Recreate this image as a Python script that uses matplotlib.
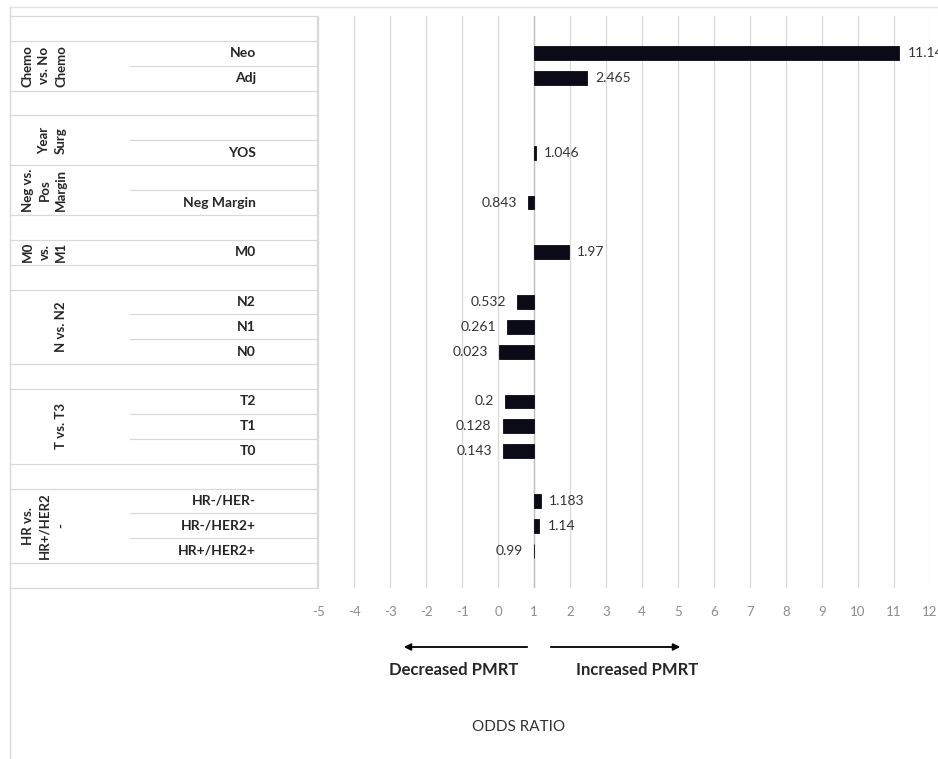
"""Odds ratio de PMRT por subgrupo - barras horizontais a partir de OR = 1."""
import numpy as np
import matplotlib.pyplot as plt
from matplotlib.patches import FancyArrowPatch

# ----------------------------- Dados -----------------------------
linhas = ["", "Neo", "Adj", "", "", "YOS", "", "Neg Margin", "", "M0", "",
          "N2", "N1", "N0", "", "T2", "T1", "T0", "",
          "HR-/HER-", "HR-/HER2+", "HR+/HER2+", ""]
odds = [np.nan, 11.148, 2.465, np.nan, np.nan, 1.046, np.nan, 0.843, np.nan, 1.97,
        np.nan, 0.532, 0.261, 0.023, np.nan, 0.2, 0.128, 0.143, np.nan,
        1.183, 1.14, 0.99, np.nan]
rotulos_valor = ["", "11.148", "2.465", "", "", "1.046", "", "0.843", "", "1.97", "",
                 "0.532", "0.261", "0.023", "", "0.2", "0.128", "0.143", "",
                 "1.183", "1.14", "0.99", ""]
# grupos: (texto, primeira linha, última linha)
grupos = [("Chemo\nvs. No\nChemo", 1, 2), ("Year\nSurg", 4, 5),
          ("Neg vs.\nPos\nMargin", 6, 7), ("M0\nvs.\nM1", 9, 9),
          ("N vs. N2", 11, 13), ("T vs. T3", 15, 17),
          ("HR vs.\nHR+/HER2\n-", 19, 21)]
ticks_x = list(range(-5, 13))

# ----------------------------- Estilo -----------------------------
COR_BARRA = "#0b0b18"
COR_GRADE = "#d9d9d9"
COR_TXT = "#262626"
COR_TICK = "#8c8c8c"
plt.rcParams["font.family"] = ["Lato", "DejaVu Sans"]

W, H = 938, 759
fig = plt.figure(figsize=(W / 100, H / 100), dpi=100, facecolor="white")

n = len(linhas)
topo, base = 16, 588
ax = fig.add_axes([318 / W, 1 - base / H, (930 - 318) / W, (base - topo) / H])
tab = fig.add_axes([10 / W, 1 - base / H, (317 - 10) / W, (base - topo) / H], sharey=ax)

y = np.arange(n)
v = np.array(odds)

# --- Barras a partir de 1 ---
ax.barh(y, v - 1, left=1, height=0.56, color=COR_BARRA,
        edgecolor=COR_BARRA, linewidth=0.6, zorder=3)
ax.set_xlim(-5, 12)
ax.set_ylim(n - 0.5, -0.5)
for t in ticks_x:
    ax.axvline(t, color=COR_GRADE, lw=0.9, zorder=1)
ax.axvline(1, color="#bfbfbf", lw=1.0, zorder=2)
ax.set_xticks(ticks_x)
ax.set_xticklabels([str(t) for t in ticks_x], fontsize=9.5, color=COR_TICK)
ax.tick_params(axis="x", length=0, pad=13)
ax.set_yticks([])
for s in ax.spines.values():
    s.set_visible(False)

for yi, val, txt in zip(y, odds, rotulos_valor):
    if np.isnan(val):
        continue
    if val >= 1:
        ax.annotate(txt, (val, yi), xytext=(6, 0), textcoords="offset points",
                    ha="left", va="center", fontsize=10, color="#333333",
                    annotation_clip=False)
    else:
        ax.annotate(txt, (val, yi), xytext=(-8, 0), textcoords="offset points",
                    ha="right", va="center", fontsize=10, color="#333333")

# --- Tabela de categorias à esquerda ---
tab.set_xlim(0, 307)
tab.axis("off")
for i in range(n + 1):
    yl = i - 0.5
    interna = any(g[1] < i <= g[2] for g in grupos)
    x0 = 120 if interna else 0
    tab.plot([x0, 307], [yl, yl], color=COR_GRADE, lw=0.9, clip_on=False)
tab.plot([307, 307], [-0.5, n - 0.5], color=COR_GRADE, lw=0.9, clip_on=False)

for yi, nome in zip(y, linhas):
    if nome:
        tab.text(246, yi, nome, ha="right", va="center", fontsize=10,
                 fontweight="bold", color=COR_TXT)
for texto, a, b in grupos:
    tab.text(57, (a + b) / 2, texto, rotation=90, ha="right", va="center",
             multialignment="center", fontsize=9.5, fontweight="bold",
             color=COR_TXT, linespacing=1.45)

# --- Bordas externas ---
fig.add_artist(plt.Line2D([10 / W, 1], [1 - 7 / H, 1 - 7 / H], color="#e3e3e3", lw=1))
fig.add_artist(plt.Line2D([10 / W, 10 / W], [0, 1 - 7 / H], color="#d9d9d9", lw=1))

# --- Setas e legendas inferiores ---
yseta = 1 - 647 / H
for x0, x1 in [(530, 401), (548, 683)]:
    fig.add_artist(FancyArrowPatch((x0 / W, yseta), (x1 / W, yseta),
                                   transform=fig.transFigure, arrowstyle="-|>",
                                   mutation_scale=10, color="black", lw=1.3))
fig.text(454 / W, 1 - 670 / H, "Decreased PMRT", ha="center", va="center",
         fontsize=12, fontweight="bold", color=COR_TXT)
fig.text(637 / W, 1 - 670 / H, "Increased PMRT", ha="center", va="center",
         fontsize=12, fontweight="bold", color=COR_TXT)
fig.text(519 / W, 1 - 727 / H, "ODDS RATIO", ha="center", va="center",
         fontsize=11, color="#333333")

fig.savefig("out.png", dpi=100, facecolor="white")
